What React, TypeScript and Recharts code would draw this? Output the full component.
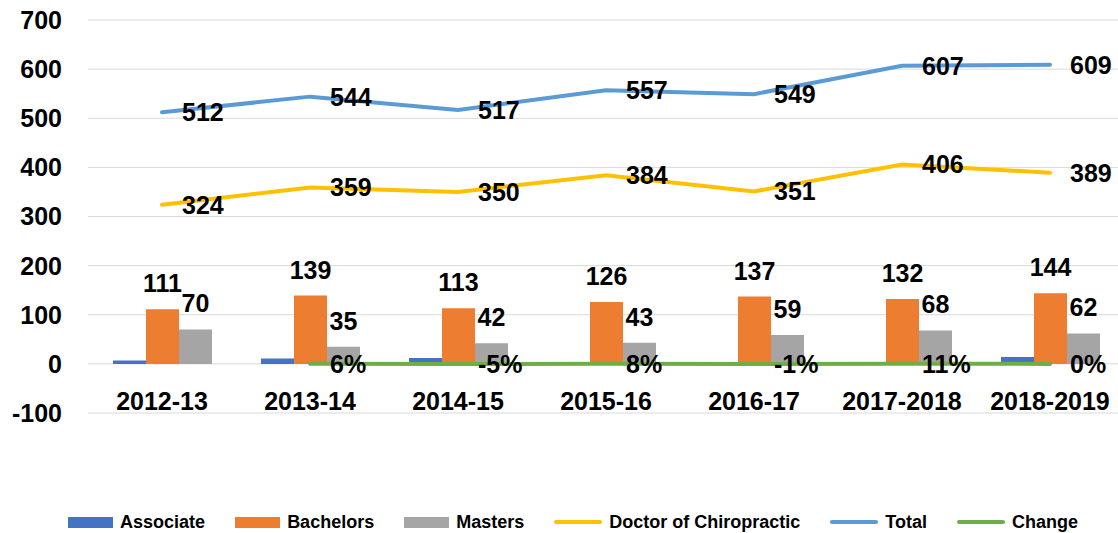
import React from 'react'
import { ComposedChart, Bar, Line, XAxis, YAxis, CartesianGrid, LabelList } from 'recharts'

// ─── data ───
const YEARS = ['2012-13', '2013-14', '2014-15', '2015-16', '2016-17', '2017-2018', '2018-2019']
const ASSOCIATE = [7, 11, 12, 4, 2, 1, 14]
const BACHELORS = [111, 139, 113, 126, 137, 132, 144]
const MASTERS = [70, 35, 42, 43, 59, 68, 62]
const DOCTOR = [324, 359, 350, 384, 351, 406, 389]
const TOTAL = [512, 544, 517, 557, 549, 607, 609]
const CHANGE: (number | null)[] = [null, 0.06, -0.05, 0.08, -0.01, 0.11, 0.0]
const Y_TICKS = [-100, 0, 100, 200, 300, 400, 500, 600, 700]

const COLORS = {
  associate: '#4472c4',
  bachelors: '#ed7d31',
  masters: '#a5a5a5',
  doctor: '#ffc000',
  total: '#5b9bd5',
  change: '#70ad47',
}

const FONT = '"Liberation Sans", Arial, sans-serif'

const data = YEARS.map((year, i) => ({
  year,
  associate: ASSOCIATE[i],
  bachelors: BACHELORS[i],
  masters: MASTERS[i],
  doctor: DOCTOR[i],
  total: TOTAL[i],
  change: CHANGE[i],
}))

const LEGEND = [
  { name: 'Associate', color: COLORS.associate, kind: 'rect' },
  { name: 'Bachelors', color: COLORS.bachelors, kind: 'rect' },
  { name: 'Masters', color: COLORS.masters, kind: 'rect' },
  { name: 'Doctor of Chiropractic', color: COLORS.doctor, kind: 'line' },
  { name: 'Total', color: COLORS.total, kind: 'line' },
  { name: 'Change', color: COLORS.change, kind: 'line' },
]

const labelStyle = { fill: '#000', fontSize: 25, fontWeight: 700 }

// category labels sit just above the bottom gridline, like the Excel original
function CategoryTick({ x, y, payload }: any) {
  return (
    <text x={x} y={y} dy={-3} textAnchor="middle" fill="#000" fontSize={25} fontWeight={700}>
      {payload.value}
    </text>
  )
}

const pct = (v: any) => (v === null || v === undefined ? '' : `${Math.round(v * 100)}%`)

export default function App() {
  return (
    <div
      style={{
        position: 'absolute',
        left: 0,
        top: 0,
        width: 1118,
        height: 533,
        overflow: 'hidden',
        background: '#fff',
        fontFamily: FONT,
      }}
    >
      <ComposedChart
        width={1126}
        height={440}
        data={data}
        margin={{ top: 20, right: 2, left: 0, bottom: 0 }}
        barGap={0}
      >
        <CartesianGrid vertical={false} stroke="#d9d9d9" strokeWidth={1} />
        <XAxis
          dataKey="year"
          height={27}
          axisLine={false}
          tickLine={false}
          tickSize={0}
          tickMargin={0}
          interval={0}
          tick={<CategoryTick />}
        />
        <YAxis
          width={88}
          domain={[-100, 700]}
          ticks={Y_TICKS}
          interval={0}
          axisLine={false}
          tickLine={false}
          tickMargin={20}
          tick={{ fill: '#000', fontSize: 25, fontWeight: 700 }}
        />
        <Bar dataKey="associate" fill={COLORS.associate} barSize={33} isAnimationActive={false} />
        <Bar dataKey="bachelors" fill={COLORS.bachelors} barSize={33} isAnimationActive={false}>
          <LabelList dataKey="bachelors" position="top" offset={17} style={labelStyle} />
        </Bar>
        <Bar dataKey="masters" fill={COLORS.masters} barSize={33} isAnimationActive={false}>
          <LabelList dataKey="masters" position="top" offset={17} style={labelStyle} />
        </Bar>
        <Line
          type="linear"
          dataKey="doctor"
          stroke={COLORS.doctor}
          strokeWidth={4}
          strokeLinecap="round"
          dot={false}
          activeDot={false}
          isAnimationActive={false}
        >
          <LabelList dataKey="doctor" position="right" offset={20} style={labelStyle} />
        </Line>
        <Line
          type="linear"
          dataKey="total"
          stroke={COLORS.total}
          strokeWidth={4}
          strokeLinecap="round"
          dot={false}
          activeDot={false}
          isAnimationActive={false}
        >
          <LabelList dataKey="total" position="right" offset={20} style={labelStyle} />
        </Line>
        <Line
          type="linear"
          dataKey="change"
          stroke={COLORS.change}
          strokeWidth={4}
          strokeLinecap="round"
          dot={false}
          activeDot={false}
          isAnimationActive={false}
        >
          <LabelList dataKey="change" position="right" offset={20} style={labelStyle} formatter={pct} />
        </Line>
      </ComposedChart>

      {/* legend */}
      <div
        style={{
          position: 'absolute',
          left: 0,
          top: 511,
          width: 1146,
          height: 22,
          display: 'flex',
          justifyContent: 'center',
          alignItems: 'center',
          gap: 30,
          fontSize: 18,
          fontWeight: 700,
          color: '#000',
        }}
      >
        {LEGEND.map(item => (
          <div key={item.name} style={{ display: 'flex', alignItems: 'center', gap: 7 }}>
            <span
              style={{
                display: 'inline-block',
                width: item.kind === 'rect' ? 45 : 48,
                height: item.kind === 'rect' ? 11 : 4,
                borderRadius: item.kind === 'rect' ? 0 : 2,
                background: item.color,
              }}
            />
            <span>{item.name}</span>
          </div>
        ))}
      </div>
    </div>
  )
}
